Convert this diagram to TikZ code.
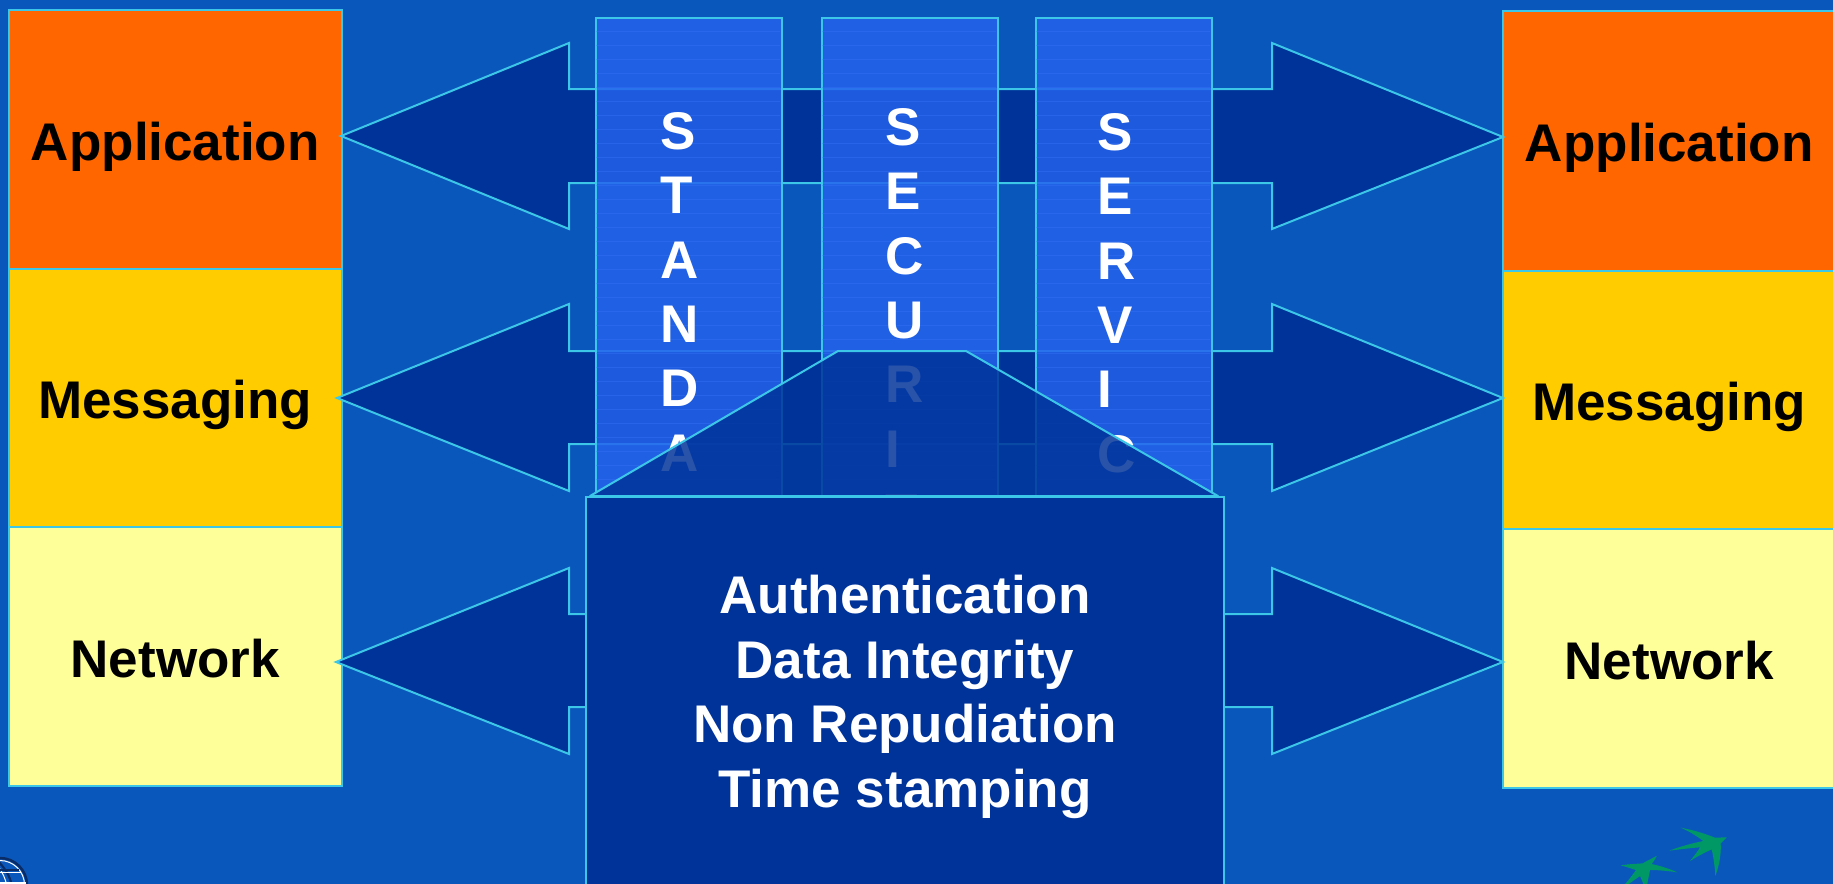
\documentclass[tikz,border=0pt]{standalone}
\usepackage{fontspec}
\setmainfont{Liberation Sans}
\definecolor{bgblue}{HTML}{0A57BB}
\definecolor{navy}{HTML}{003399}
\definecolor{edgeblue}{HTML}{3CC6E8}
\definecolor{colblue}{HTML}{2563EE}
\definecolor{stripeblue}{HTML}{3A78FF}
\definecolor{layerA}{HTML}{FF6600}
\definecolor{layerB}{HTML}{FFCC00}
\definecolor{layerC}{HTML}{FFFF99}
\definecolor{birdgreen}{HTML}{009966}
\definecolor{globedark}{HTML}{0A2C66}
\tikzset{
  layerbox/.style={draw=edgeblue,line width=2bp,anchor=north west,minimum width=332.5bp,inner sep=0pt,
    font=\fontsize{53bp}{60bp}\selectfont\bfseries,text=black,text height=51bp,text depth=10bp},
  bigarrow/.style={draw=edgeblue,fill=navy,line width=2bp,line join=miter},
  colbox/.style={draw=edgeblue,line width=2bp,fill=colblue,fill opacity=.82,anchor=north west,inner sep=0pt},
  colstripe/.style={stripeblue,line width=1bp,opacity=.35},
  colletters/.style={anchor=north west,inner sep=0pt,align=left,text=white,font=\fontsize{53bp}{64.4bp}\selectfont\bfseries},
  trap/.style={draw=edgeblue,line width=2bp,fill=navy,fill opacity=.84,line join=round},
  mainbox/.style={draw=edgeblue,line width=2bp,fill=navy,anchor=north,minimum width=638bp,minimum height=400bp,inner sep=0pt,
    align=center,text=white,font=\fontsize{53bp}{64.4bp}\selectfont\bfseries},
  bird/.style={fill=birdgreen,draw=none},
}
\begin{document}
\begin{tikzpicture}[x=1bp,y=-1bp]
\useasboundingbox (0,0) rectangle (1833,884);
\clip (0,0) rectangle (1833,884);
\fill[bgblue] (0,0) rectangle (1833,884);
% left stack
\node[layerbox,fill=layerA,minimum height=259bp] (appL) at (8,9) {Application};
\node[layerbox,fill=layerB,minimum height=258bp] (msgL) at (8,268) {Messaging};
\node[layerbox,fill=layerC,minimum height=259bp] (netL) at (8,526) {Network};
% right stack
\node[layerbox,fill=layerA,minimum height=260bp] (appR) at (1502,10) {Application};
\node[layerbox,fill=layerB,minimum height=258bp] (msgR) at (1502,270) {Messaging};
\node[layerbox,fill=layerC,minimum height=259bp] (netR) at (1502,528) {Network};
% double arrows
\draw[bigarrow] (341,136) -- (569,43) -- (569,89) -- (1272,89) -- (1272,43) -- (1503,137)
  -- (1272,229) -- (1272,183) -- (569,183) -- (569,229) -- cycle;
\draw[bigarrow] (337,398) -- (569,304) -- (569,351) -- (1272,351) -- (1272,304) -- (1503,398)
  -- (1272,491) -- (1272,444) -- (569,444) -- (569,491) -- cycle;
\draw[bigarrow] (336,662) -- (569,568) -- (569,614) -- (1272,614) -- (1272,568) -- (1503,662)
  -- (1272,754) -- (1272,707) -- (569,707) -- (569,754) -- cycle;
% columns
\node[colbox,minimum width=186bp,minimum height=481bp] (colA) at (595,17) {};
\node[colbox,minimum width=176bp,minimum height=481bp] (colB) at (821,17) {};
\node[colbox,minimum width=176bp,minimum height=481bp] (colC) at (1035,17) {};
\foreach \yy in {31,45,...,490}{
  \draw[colstripe] (596,\yy) -- (780,\yy);
  \draw[colstripe] (822,\yy) -- (996,\yy);
  \draw[colstripe] (1036,\yy) -- (1210,\yy);
}
\node[colletters] (lblA) at (660,112) {S\\T\\A\\N\\D\\A};
\node[colletters] (lblB) at (885,108) {S\\E\\C\\U\\R\\I\\T};
\node[colletters] (lblC) at (1097,113) {S\\E\\R\\V\\I\\C};
% trapezoid and main box
\draw[trap] (590,496) -- (838,351) -- (966,351) -- (1218,496) -- cycle;
\node[mainbox] (main) at (905,496) {Authentication\\Data Integrity\\Non Repudiation\\Time stamping};
% birds logo
\begin{scope}[shift={(1560,790)},scale=1/3]
  \fill[bird] (362,113) .. controls (410,122) and (445,135) .. (465,143) -- (500,142) -- (482,160)
    .. controls (484,190) and (478,225) .. (466,258) .. controls (464,225) and (460,200) .. (455,178)
    .. controls (430,190) and (410,200) .. (390,213) .. controls (402,198) and (412,186) .. (420,172)
    .. controls (390,174) and (360,178) .. (328,182) .. controls (360,170) and (395,160) .. (430,153)
    .. controls (410,138) and (390,125) .. (362,113) -- cycle;
  \fill[bird] (182,226) .. controls (205,222) and (228,222) .. (248,220) .. controls (262,212) and (276,205) .. (290,198)
    .. controls (285,208) and (280,215) .. (275,222) .. controls (302,228) and (328,236) .. (352,247)
    .. controls (325,243) and (298,240) .. (270,240) -- (258,300) -- (240,258) -- (180,300)
    .. controls (198,280) and (214,260) .. (228,240) .. controls (212,235) and (198,230) .. (182,226) -- cycle;
\end{scope}
% globe logo
\draw[globedark,line width=2.5bp] (0,885) circle[radius=27];
\draw[white,line width=1bp] (0,885) circle[radius=24.5];
\draw[globedark,line width=2.2bp] (-4,859) .. controls (5,868) and (10,876) .. (12,886);
\draw[white,line width=1bp] (-6,861) .. controls (1,869) and (5,877) .. (7,886);
\draw[globedark,line width=2bp] (0,870) -- (19,870);
\draw[white,line width=1bp] (0,872) -- (21,872);
\draw[white,line width=1.2bp] (0,883) -- (26,883);
\end{tikzpicture}
\end{document}
